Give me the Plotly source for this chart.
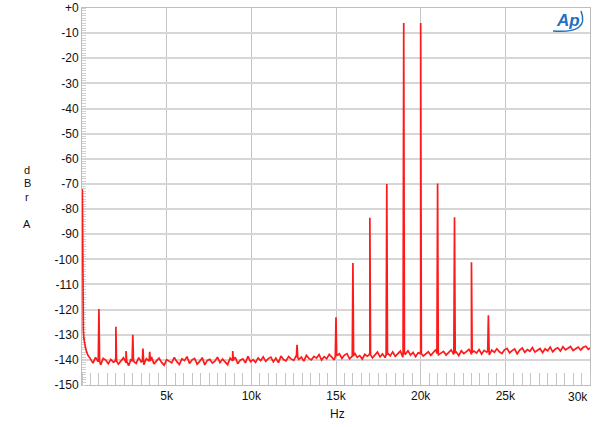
import plotly.graph_objects as go

# ---- data ----
# low-frequency roll-off (Hz, dBr)
low_freq = [20, 30, 45, 60, 80, 110, 150, 200, 260]
low_level = [-72, -95, -112, -122, -128, -131.5, -133.5, -135, -136.5]

# noise floor on a 150 Hz grid starting at 350 Hz
floor_start = 350
floor_step = 150
floor_level = [
    -138.2, -139.6, -141.3, -139.0, -140.7, -142.0, -139.4, -140.1, -141.5, -139.8,
    -140.9, -138.9, -141.7, -140.3, -139.2, -141.1, -142.3, -139.7, -140.6, -141.4,
    -139.1, -140.8, -141.9, -139.5, -140.2, -138.8, -141.6, -140.4, -139.3, -141.0,
    -142.1, -139.9, -140.5, -141.2, -139.0, -140.7, -141.8, -139.6, -140.3, -138.7,
    -141.4, -140.0, -139.4, -141.7, -140.6, -139.1, -142.0, -140.2, -139.8, -141.3,
    -140.5, -138.9, -141.1, -139.7, -140.8, -141.9, -139.3, -140.4, -139.0, -141.5,
    -140.1, -139.6, -141.2, -138.6, -140.7, -139.9, -141.0, -139.2, -140.3, -138.8,
    -140.6, -139.5, -138.9, -140.8, -139.3, -141.1, -138.5, -139.9, -140.4, -138.7,
    -139.6, -140.2, -138.4, -139.8, -138.9, -140.5, -138.2, -139.4, -140.0, -138.6,
    -139.3, -137.9, -140.1, -138.7, -139.5, -137.8, -138.9, -140.0, -138.3, -137.6,
    -139.4, -138.1, -137.5, -139.6, -138.6, -137.2, -139.0, -138.3, -139.7, -137.8,
    -138.5, -137.1, -139.2, -138.0, -136.9, -138.8, -137.6, -139.1, -137.3, -138.4,
    -136.8, -138.6, -137.4, -136.5, -138.9, -137.7, -136.4, -138.1, -137.0, -138.7,
    -137.2, -136.3, -138.5, -137.6, -136.8, -138.2, -137.0, -135.9, -138.0, -137.3,
    -136.6, -138.1, -137.1, -136.0, -137.8, -136.9, -138.3, -136.4, -137.5, -136.7,
    -135.8, -137.9, -136.5, -137.3, -135.9, -137.7, -136.2, -136.9, -138.0, -136.1,
    -137.0, -135.6, -136.8, -137.5, -136.0, -135.4, -137.2, -136.3, -135.7, -137.6,
    -136.1, -135.3, -137.0, -135.9, -136.6, -135.1, -136.9, -136.2, -135.5, -137.1,
    -135.6, -136.4, -134.9, -136.8, -135.7, -135.2, -136.5, -134.8, -136.0, -135.4,
    -134.7, -136.3, -135.5, -134.9, -136.1, -135.0, -134.6, -135.8, -135.2,
]

# discrete spectral lines (Hz, dBr) and the floor level at their feet
peak_freq = [1000, 2000, 2600, 3000, 3600, 4000, 8900, 12700,
             15000, 16000, 17000, 18000, 19000, 20000, 21000, 22000, 23000, 24000]
peak_level = [-119.8, -126.8, -136.5, -130.0, -135.5, -136.8, -136.5, -134.0,
              -123.0, -101.5, -83.5, -70.0, -6.0, -6.0, -69.8, -83.3, -101.2, -122.3]
peak_base = [-140.5, -140.5, -140.5, -140.5, -140.5, -140.5, -140, -139,
             -138.5, -138.5, -138, -138, -137.5, -137.5, -137.5, -137, -137, -136.5]

# axis ticks
x_tickvals = [5000, 10000, 15000, 20000, 25000]
x_ticktext = ["5k", "10k", "15k", "20k", "25k"]
x_last_label = "30k"
y_tickvals = list(range(0, -151, -10))
y_ticktext = ["+0"] + [str(v) for v in y_tickvals[1:]]

# ---- build trace ----
PEAK_HALF_WIDTH = 40
floor_freq = [floor_start + floor_step * i for i in range(len(floor_level))]
pts = list(zip(low_freq, low_level)) + list(zip(floor_freq, floor_level))
for f, lv, b in zip(peak_freq, peak_level, peak_base):
    pts += [(f - PEAK_HALF_WIDTH, b), (f, lv), (f + PEAK_HALF_WIDTH, b)]
pts.sort(key=lambda p: p[0])
fx = [p[0] for p in pts]
fy = [p[1] for p in pts]

fig = go.Figure()
fig.add_trace(go.Scatter(x=fx, y=fy, mode="lines",
                         line=dict(color="#ff1a1a", width=1.7), hoverinfo="skip"))

FAM = "Liberation Sans, Arial, sans-serif"
font = dict(family=FAM, size=12, color="#111")

L, R, T, B = 82, 10, 8, 42
W, H = 600, 427
PW, PH = W - L - R, H - T - B

def px(x):
    return (x - L) / PW

def py(y):
    return (H - B - y) / PH

fig.update_layout(
    width=W, height=H,
    margin=dict(l=L, r=R, t=T, b=B, autoexpand=False),
    paper_bgcolor="white", plot_bgcolor="white",
    showlegend=False,
    font=font,
    xaxis=dict(
        range=[0, 30000], tickvals=x_tickvals, ticktext=x_ticktext,
        showgrid=True, gridcolor="#c4c4c4", gridwidth=1,
        zeroline=False, showline=True, linecolor="#bdbdbd", linewidth=1, mirror=True,
        ticks="", ticklabelstandoff=0, automargin=False, layer="below traces",
        minor=dict(dtick=500, tick0=0, ticks="inside", ticklen=12, tickcolor="#c4c4c4",
                   tickwidth=1, showgrid=False),
        tickfont=font,
    ),
    yaxis=dict(
        range=[-150, 0], tickvals=y_tickvals, ticktext=y_ticktext,
        showgrid=True, gridcolor="#d6d6d6", gridwidth=2,
        zeroline=False, showline=True, linecolor="#bdbdbd", linewidth=1, mirror=True,
        ticks="", ticklabelstandoff=0, automargin=False, layer="below traces",
        minor=dict(dtick=1, tick0=0, ticks="inside", ticklen=4, tickcolor="#cfcfcf",
                   tickwidth=1, showgrid=False),
        tickfont=font,
    ),
)

# y-axis title "dBr A" stacked
for ch, yy in zip(["d", "B", "r", "A"], [170, 183, 197, 224]):
    fig.add_annotation(text=ch, x=px(27), y=py(yy), xref="paper", yref="paper",
                       xanchor="center", yanchor="middle", showarrow=False,
                       font=dict(family=FAM, size=11, color="#111"))

# last x label, right-aligned at the plot edge
fig.add_annotation(text=x_last_label, x=1.0, y=py(397), xref="paper", yref="paper",
                   xanchor="right", yanchor="middle", showarrow=False, font=font)

fig.add_annotation(text="Hz", x=px(337), y=py(414), xref="paper", yref="paper",
                   showarrow=False, xanchor="center", yanchor="middle", font=font)

# AP logo
fig.add_annotation(text="<b><i>Ap</i></b>", x=px(568), y=py(21),
                   xref="paper", yref="paper", showarrow=False, xanchor="center", yanchor="middle",
                   font=dict(family=FAM, size=17, color="#1f6fc5"))
fig.add_shape(type="path", xref="paper", yref="paper",
              path="M %f %f Q %f %f %f %f" % (px(553), py(31), px(590), py(34), px(581), py(11)),
              line=dict(color="#1f6fc5", width=1.5))

fig.write_html("out.html", config={"displayModeBar": False},
               post_script="document.body.style.margin='0';")
